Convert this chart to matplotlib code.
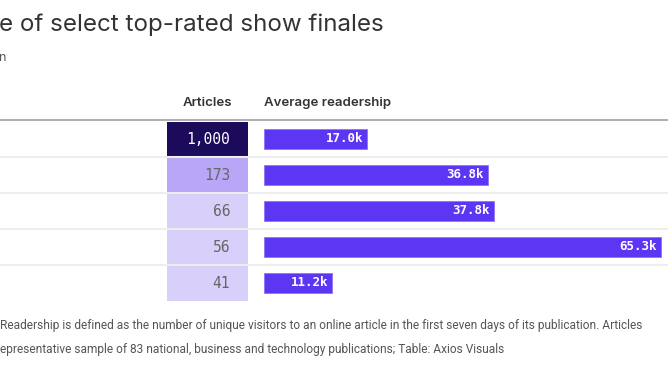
import matplotlib
matplotlib.use("Agg")
import matplotlib.pyplot as plt
from matplotlib.patches import Rectangle

# data
articles = [1000, 173, 66, 56, 41]
readership_k = [17.0, 36.8, 37.8, 65.3, 11.2]
cell_colors = ["#1c0a5a", "#b8a7f6", "#d9cffb", "#d9cffb", "#d9cffb"]
cell_text_colors = ["white", "#666666", "#666666", "#666666", "#666666"]

title = "e of select top-rated show finales"
col_headers = ["Articles", "Average readership"]
note_lines = [
    "Readership is defined as the number of unique visitors to an online article in the first seven days of its publication. Articles",
    "epresentative sample of 83 national, business and technology publications; Table: Axios Visuals",
]

W, H = 668, 376
fig = plt.figure(figsize=(W / 100, H / 100), dpi=100)

# page axes in pixel coordinates
page = fig.add_axes([0, 0, 1, 1])
page.set_xlim(0, W)
page.set_ylim(H, 0)
page.axis("off")

sans = ["Inter", "DejaVu Sans"]
mono = ["DejaVu Sans Mono"]
note_font = ["Roboto", "DejaVu Sans"]

page.text(-1, 25, title, fontsize=17.4, family=sans, color="#333333", va="center", ha="left")
page.text(-1, 58, "n", fontsize=9, family=sans, color="#555555", va="center", ha="left")

page.text(207, 103, col_headers[0], fontsize=9.5, family=sans, weight="semibold",
          color="#333333", ha="center", va="center")
page.text(264, 103, col_headers[1], fontsize=9.5, family=sans, weight="semibold",
          color="#333333", ha="left", va="center")

row_top = 121
row_h = 36
n = len(articles)
page.plot([0, W], [row_top - 1, row_top - 1], color="#a8a8a8", lw=1.3)
for i in range(1, n):
    y = row_top + i * row_h
    page.plot([0, W], [y, y], color="#eeeeee", lw=1.5)

# articles column: cells
for i, (v, c, tc) in enumerate(zip(articles, cell_colors, cell_text_colors)):
    y0 = row_top + i * row_h
    page.add_patch(Rectangle((167, y0 + 1), 81, row_h - 1, facecolor=c, edgecolor="none"))
    page.text(230, y0 + row_h / 2, f"{v:,}", fontsize=10.5, family=mono, color=tc,
              ha="right", va="center")

# readership bars in their own axes
px_per_k = 6.08
bar_left = 264
bar_w_px = W - bar_left
bx = fig.add_axes([bar_left / W, (H - row_top - n * row_h) / H, bar_w_px / W, n * row_h / H])
bx.set_xlim(0, bar_w_px / px_per_k)
bx.set_ylim(n - 0.5, -0.5)
bx.axis("off")
bx.barh(range(n), readership_k, height=20 / row_h, left=0, color="#5c36f3",
        edgecolor="#8f75f7", linewidth=0.6)
for i, v in enumerate(readership_k):
    bx.annotate(f"{v:.1f}k", (v, i), xytext=(-3, 0), textcoords="offset points",
                ha="right", va="center", fontsize=9, family=mono, color="white",
                weight="bold")

page.text(0, 325, note_lines[0], fontsize=8.55, family=note_font,
          color="#555555", ha="left", va="center")
page.text(0, 349, note_lines[1], fontsize=8.55, family=note_font,
          color="#555555", ha="left", va="center")

fig.savefig("out.png", dpi=100)
